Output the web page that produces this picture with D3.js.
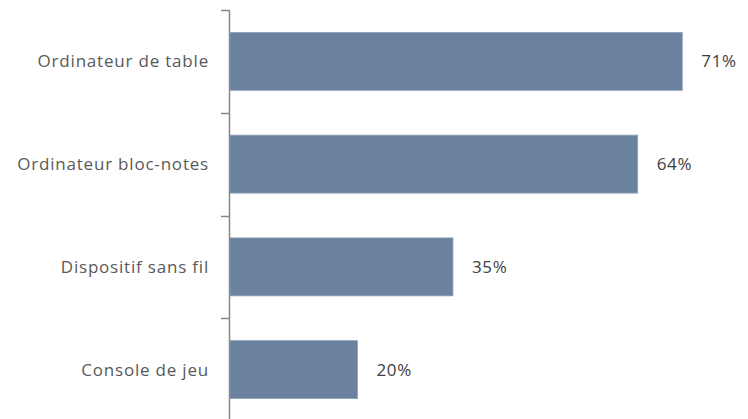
<!DOCTYPE html>
<html>
<head>
<meta charset="utf-8">
<script src="https://cdn.jsdelivr.net/npm/d3@7"></script>
<style>
  html, body { margin: 0; padding: 0; background: #ffffff; }
  svg { display: block; }
</style>
</head>
<body>
<svg id="chart" width="748" height="419"></svg>
<script>
const categories = ["Ordinateur de table", "Ordinateur bloc-notes", "Dispositif sans fil", "Console de jeu"];
const values = [71, 64, 35, 20];
const valueLabels = ["71%", "64%", "35%", "20%"];

const svg = d3.select("#chart");
const plotLeft = 230, plotTop = 10, plotBottom = 421;

const x = d3.scaleLinear().domain([0, 100]).range([plotLeft, plotLeft + 637]);
const y = d3.scaleBand().domain(categories).range([plotTop, plotBottom]).paddingInner(0.436).paddingOuter(0.218);

const font = "'Open Sans', sans-serif";

// bars
svg.selectAll("rect.bar")
  .data(values)
  .join("rect")
  .attr("class", "bar")
  .attr("x", x(0))
  .attr("y", (d, i) => y(categories[i]))
  .attr("width", d => x(d) - x(0))
  .attr("height", y.bandwidth())
  .attr("fill", "#6a829f")
  .attr("stroke", "#8da0b8")
  .attr("stroke-width", 0.8);

// value labels
svg.selectAll("text.val")
  .data(values)
  .join("text")
  .attr("class", "val")
  .attr("x", d => x(d) + 19)
  .attr("y", (d, i) => y(categories[i]) + y.bandwidth() / 2)
  .attr("dy", "0.36em")
  .attr("font-family", font)
  .attr("font-size", 17)
  .attr("letter-spacing", 0.7)
  .attr("fill", "#404040")
  .text((d, i) => valueLabels[i]);

// category axis with ticks between bands
const tickYs = d3.range(categories.length + 1).map(i => plotTop + i * y.step());

const axis = svg.append("g");
axis.append("line")
  .attr("x1", plotLeft - 0.5).attr("x2", plotLeft - 0.5)
  .attr("y1", plotTop).attr("y2", 419)
  .attr("stroke", "#878787").attr("stroke-width", 1.5);
axis.selectAll("line.tick")
  .data(tickYs)
  .join("line")
  .attr("class", "tick")
  .attr("x1", plotLeft - 9).attr("x2", plotLeft)
  .attr("y1", d => Math.round(d) + 0.5).attr("y2", d => Math.round(d) + 0.5)
  .attr("stroke", "#878787").attr("stroke-width", 1.5);

axis.selectAll("text.cat")
  .data(categories)
  .join("text")
  .attr("class", "cat")
  .attr("x", 209)
  .attr("y", d => y(d) + y.bandwidth() / 2)
  .attr("dy", "0.36em")
  .attr("text-anchor", "end")
  .attr("font-family", font)
  .attr("font-size", 17)
  .attr("letter-spacing", 0.8)
  .attr("fill", "#595959")
  .text(d => d);
</script>
</body>
</html>
